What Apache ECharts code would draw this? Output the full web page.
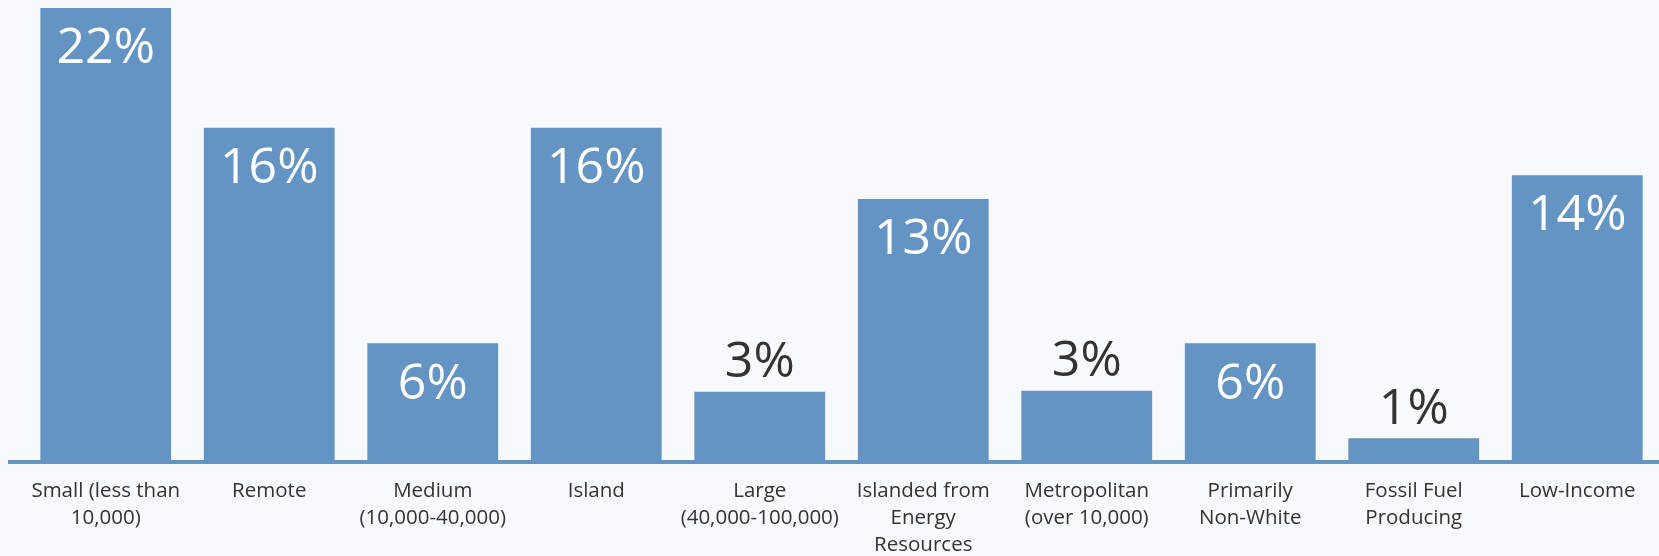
<!DOCTYPE html>
<html>
<head>
<meta charset="utf-8">
<script src="https://cdn.jsdelivr.net/npm/echarts@6/dist/echarts.min.js"></script>
<style>
  html, body { margin: 0; padding: 0; background: #f8f9fb; }
  #chart { width: 1659px; height: 556px; }
</style>
</head>
<body>
<div id="chart"></div>
<script>
const categories = [
  "Small (less than\n10,000)",
  "Remote",
  "Medium\n(10,000-40,000)",
  "Island",
  "Large\n(40,000-100,000)",
  "Islanded from\nEnergy\nResources",
  "Metropolitan\n(over 10,000)",
  "Primarily\nNon-White",
  "Fossil Fuel\nProducing",
  "Low-Income"
];
const shares = [22, 16.2, 5.75, 16.2, 3.4, 12.75, 3.45, 5.75, 1.15, 13.9];
const outsideThreshold = 5;

const barColor = "#6394c4";
const gridLeft = 24, gridBottom = 94;

const chart = echarts.init(document.getElementById("chart"), null, { renderer: "canvas" });

const data = shares.map(v => {
  const outside = v < outsideThreshold;
  return {
    value: v,
    label: outside
      ? { position: "top", distance: 4, color: "#333333" }
      : { position: "insideTop", distance: 16, color: "#ffffff" }
  };
});

chart.setOption({
  backgroundColor: "#f8f9fb",
  animation: false,
  grid: { left: gridLeft, right: 0, top: 8, bottom: gridBottom, containLabel: false, outerBoundsMode: "none" },
  xAxis: {
    type: "category",
    data: categories,
    axisLine: { show: false },
    axisTick: { show: false },
    axisLabel: {
      interval: 0,
      margin: 16,
      color: "#333333",
      fontFamily: "Open Sans",
      fontSize: 20.5,
      lineHeight: 27
    }
  },
  yAxis: {
    type: "value",
    min: 0,
    max: 22,
    show: false,
    splitLine: { show: false }
  },
  series: [{
    type: "bar",
    data: data,
    barCategoryGap: "20%",
    itemStyle: { color: barColor },
    label: {
      show: true,
      fontFamily: "Open Sans",
      fontSize: 50,
      lineHeight: 50,
      formatter: p => Math.round(p.value) + "%"
    }
  }],
  graphic: [{
    type: "rect",
    z: 10,
    shape: { x: 8, y: 556 - gridBottom - 2, width: 1659 - 8, height: 4 },
    style: { fill: barColor }
  }]
});
</script>
</body>
</html>
